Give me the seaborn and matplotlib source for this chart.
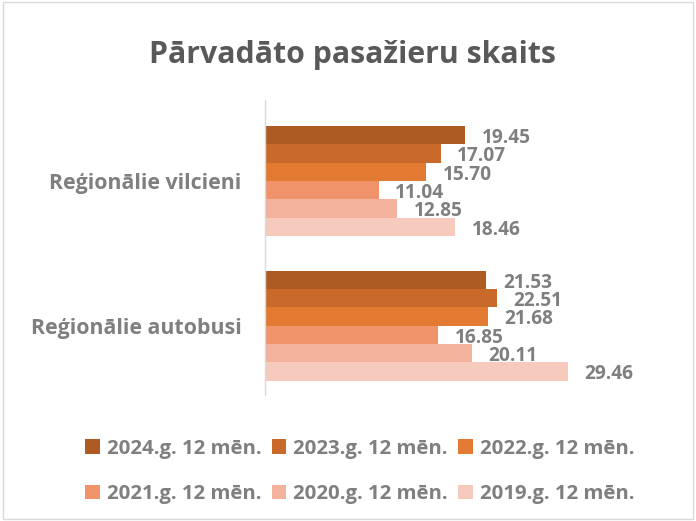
import pandas as pd
import matplotlib.pyplot as plt
import seaborn as sns

# data
categories = ['Reģionālie vilcieni', 'Reģionālie autobusi']
years = ['2024.g. 12 mēn.', '2023.g. 12 mēn.', '2022.g. 12 mēn.',
         '2021.g. 12 mēn.', '2020.g. 12 mēn.', '2019.g. 12 mēn.']
vilcieni = [19.45, 17.07, 15.70, 11.04, 12.85, 18.46]
autobusi = [21.53, 22.51, 21.68, 16.85, 20.11, 29.46]
colors = ['#AE5A23', '#C96A2A', '#E27A31', '#F0936A', '#F3B29C', '#F6CBBE']

rows = []
for y, v in zip(years, vilcieni):
    rows.append({'cat': categories[0], 'year': y, 'val': v})
for y, v in zip(years, autobusi):
    rows.append({'cat': categories[1], 'year': y, 'val': v})
df = pd.DataFrame(rows)

sns.set_style('white')
plt.rcParams['font.family'] = ['Open Sans', 'DejaVu Sans']
grey = '#7F7F7F'

fig = plt.figure(figsize=(6.96, 5.21), dpi=100)
ax = fig.add_axes([265 / 696, 1 - 395 / 521, 360 / 696, 295 / 521])

sns.barplot(data=df, y='cat', x='val', hue='year', hue_order=years,
            order=categories, palette=colors, saturation=1, orient='h',
            width=0.76, edgecolor='none', legend=True, ax=ax)

ax.set_xlim(0, 35)
ax.set_ylim(1.48, -0.56)
ax.set_xticks([])
ax.set_xlabel('')
ax.set_ylabel('')
for s in ['top', 'right', 'bottom']:
    ax.spines[s].set_visible(False)
ax.spines['left'].set_color('#D9D9D9')
ax.spines['left'].set_linewidth(1)
ax.tick_params(axis='y', length=0, pad=17)
for lab in ax.get_yticklabels():
    lab.set_fontsize(15.4)
    lab.set_fontweight('bold')
    lab.set_color(grey)

for cont in ax.containers:
    for bar in cont:
        w = bar.get_width()
        cy = bar.get_y() + bar.get_height() / 2
        ax.annotate(f'{w:.2f}', xy=(w, cy), xytext=(12, -2),
                    textcoords='offset points', ha='left', va='center',
                    fontsize=13.8, fontweight='bold', color=grey)

# legend filled row by row like the original
handles, labels = ax.get_legend_handles_labels()
ax.legend_.remove()
order = [0, 3, 1, 4, 2, 5]
fig.legend([handles[i] for i in order], [labels[i] for i in order],
           loc='center', bbox_to_anchor=(0.517, 1 - 471.5 / 521),
           ncol=3, frameon=False, handlelength=0.7, handleheight=0.7,
           handletextpad=0.36, columnspacing=0.5, labelspacing=1.25,
           prop={'size': 14.7, 'weight': 'bold'}, labelcolor=grey)

fig.text(0.506, 1 - 55 / 521, 'Pārvadāto pasažieru skaits', ha='center',
         va='center', fontsize=21.8, fontweight='bold', color='#595959')

border = plt.Rectangle((0.004, 0.004), 0.992, 0.992, transform=fig.transFigure,
                       fill=False, edgecolor='#D9D9D9', linewidth=1)
fig.patches.append(border)

fig.savefig('out.png', dpi=100)
plt.close(fig)
